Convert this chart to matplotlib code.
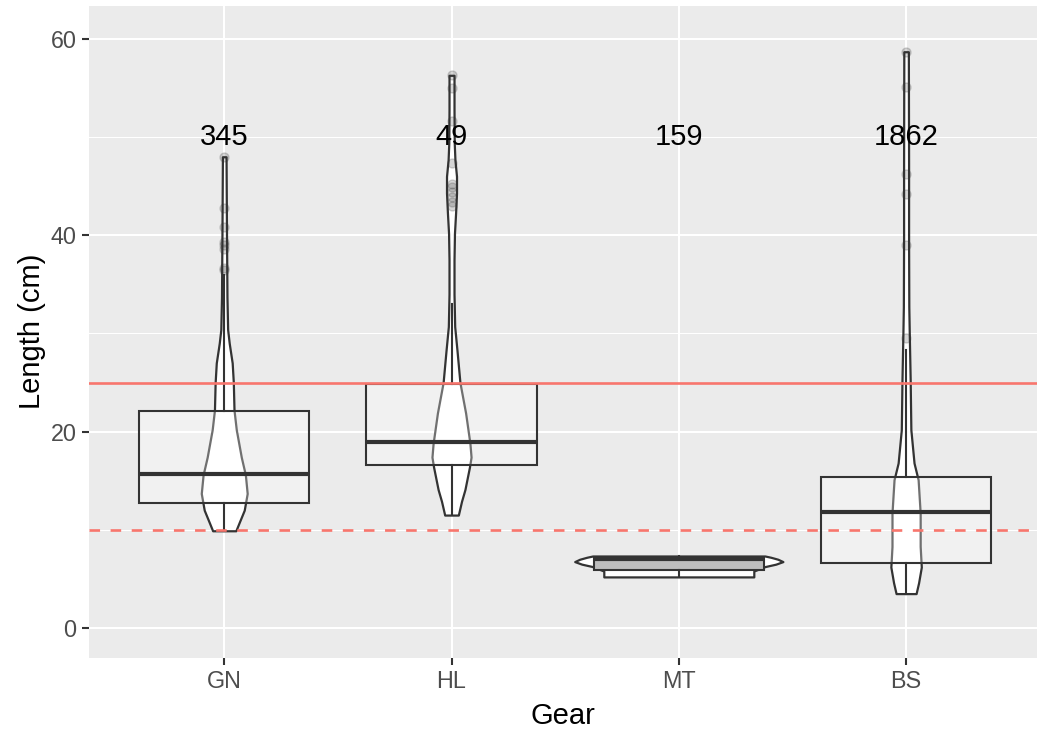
import numpy as np
import matplotlib.pyplot as plt

gears = ["GN", "HL", "MT", "BS"]
counts = [345, 49, 159, 1862]

# violin outline: length (cm) and half width (x units)
gn_len = [9.9, 10.7, 12.0, 13.7, 15.6, 17.4, 20.2, 22.2, 25.0, 27.0, 29.0, 30.4, 33.7, 37.0, 40.0, 44.0, 48.0]
gn_wid = [0.051, 0.065, 0.088, 0.101, 0.093, 0.075, 0.053, 0.043, 0.040, 0.035, 0.022, 0.015, 0.012, 0.011, 0.010, 0.009, 0.008]
hl_len = [11.5, 12.9, 14.1, 16.4, 17.4, 18.8, 21.9, 25.0, 28.3, 30.7, 34.0, 37.5, 40.2, 42.3, 44.3, 46.0, 47.7, 49.4, 52.8, 56.3]
hl_wid = [0.030, 0.044, 0.059, 0.079, 0.086, 0.081, 0.062, 0.037, 0.024, 0.014, 0.011, 0.011, 0.013, 0.018, 0.022, 0.022, 0.015, 0.012, 0.011, 0.011]
mt_len = [5.2, 5.5, 5.8, 6.0, 6.25, 6.5, 6.76, 7.0, 7.2, 7.33]
mt_wid = [0.330, 0.330, 0.330, 0.352, 0.379, 0.427, 0.458, 0.436, 0.405, 0.379]
bs_len = [3.5, 4.6, 6.2, 8.3, 11.7, 15.1, 16.8, 20.2, 25.3, 30.0, 32.7, 39.5, 47.4, 58.7]
bs_wid = [0.044, 0.055, 0.067, 0.062, 0.062, 0.053, 0.035, 0.021, 0.018, 0.014, 0.012, 0.011, 0.011, 0.010]
vio_len = [gn_len, hl_len, mt_len, bs_len]
vio_wid = [gn_wid, hl_wid, mt_wid, bs_wid]

# boxplot stats
whislo = [9.9, 11.5, 5.2, 3.5]
q1 = [12.7, 16.6, 5.9, 6.6]
med = [15.7, 18.95, 7.0, 11.8]
q3 = [22.1, 24.85, 7.1, 15.4]
whishi = [36.0, 33.0, 7.33, 28.3]
fliers = [
    [36.5, 36.7, 38.6, 39.0, 39.3, 40.8, 42.8, 48.0],
    [43.0, 43.4, 43.9, 44.4, 44.9, 45.2, 47.4, 51.6, 55.0, 56.3],
    [],
    [29.5, 39.0, 44.2, 46.2, 55.1, 58.7],
]

upper_ref = 25
lower_ref = 10
label_y = 50

plt.rcParams['font.family'] = ['Liberation Sans', 'DejaVu Sans']

fig = plt.figure(figsize=(10.37, 7.3), dpi=100)
ax = fig.add_axes([89/1037, 72.3/730, 948/1037, 652.1/730])
ax.set_facecolor('#EBEBEB')
for s in ax.spines.values():
    s.set_visible(False)

pos = np.arange(1, len(gears) + 1)

for i in range(len(gears)):
    L = np.array(vio_len[i])
    W = np.array(vio_wid[i])
    ax.fill_betweenx(L, pos[i] - W, pos[i] + W, facecolor='white',
                     edgecolor='#333333', linewidth=1.6, zorder=2)

stats = []
for i in range(len(gears)):
    stats.append(dict(whislo=whislo[i], q1=q1[i], med=med[i], q3=q3[i],
                      whishi=whishi[i], fliers=fliers[i]))

bp = ax.bxp(stats, positions=pos, widths=0.75, patch_artist=True,
            showcaps=False, manage_ticks=False,
            boxprops=dict(facecolor=(1, 1, 1, 0.3), edgecolor='#333333', linewidth=1.5),
            whiskerprops=dict(color='#333333', linewidth=1.5),
            medianprops=dict(color='#333333', linewidth=3.0, solid_capstyle='butt'),
            flierprops=dict(marker='o', markersize=6.5, markerfacecolor='#333333',
                            markeredgecolor='#333333', alpha=0.2))
for b in bp['boxes']:
    b.set_zorder(3)
bp['boxes'][2].set_facecolor('#BDBDBD')
for k in ['whiskers', 'medians', 'fliers']:
    for a in bp[k]:
        a.set_zorder(3)

ax.axhline(upper_ref, color='#F8766D', linewidth=1.9, zorder=4)
ax.axhline(lower_ref, color='#F8766D', linewidth=1.9, dashes=(4, 4), zorder=4)

for i in range(len(gears)):
    ax.text(pos[i], label_y, str(counts[i]), ha='center', va='center',
            fontsize=21, color='black', zorder=5)

ax.set_xlim(0.405, 4.576)
ax.set_ylim(-3.03, 63.4)
ax.set_xticks(pos)
ax.set_xticklabels(gears)
ax.set_yticks([0, 20, 40, 60])
ax.set_yticks([10, 30, 50], minor=True)
ax.grid(True, which='major', color='white', linewidth=1.5, zorder=0)
ax.grid(True, which='minor', axis='y', color='white', linewidth=0.75, zorder=0)
ax.set_axisbelow(True)
ax.tick_params(axis='both', which='major', color='#333333', length=5, width=1.5,
               labelcolor='#4D4D4D', labelsize=16.8)
ax.tick_params(axis='y', which='major', pad=4)
ax.tick_params(axis='x', which='major', pad=4)
ax.tick_params(which='minor', length=0)

ax.set_xlabel("Gear", fontsize=21, labelpad=6)
ax.set_ylabel("Length (cm)", fontsize=21, labelpad=3)

fig.savefig("out.png", dpi=100)
